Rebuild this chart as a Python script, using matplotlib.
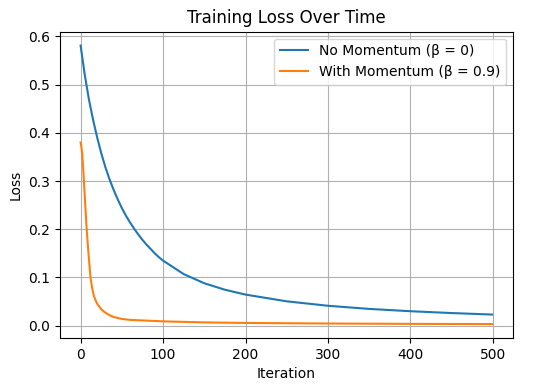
import matplotlib
matplotlib.use("Agg")
import matplotlib.pyplot as plt

iter_no_mom = [0, 5, 10, 15, 20, 25, 30, 35, 40, 45, 50, 55, 60, 65, 70, 75,
               80, 85, 90, 95, 100, 125, 150, 175, 200, 250, 300, 350, 400,
               450, 499]
loss_no_mom = [0.581, 0.521, 0.470, 0.428, 0.391, 0.358, 0.329, 0.304, 0.282,
               0.262, 0.244, 0.228, 0.214, 0.201, 0.189, 0.178, 0.168, 0.159,
               0.150, 0.142, 0.135, 0.107, 0.088, 0.0746, 0.0645, 0.0505,
               0.0413, 0.0348, 0.0300, 0.0262, 0.0231]

iter_mom = [0, 1, 2, 3, 4, 5, 6, 7, 8, 10, 12, 14, 16, 18, 20, 25, 30, 35, 40,
            50, 60, 80, 100, 150, 200, 300, 400, 499]
loss_mom = [0.380, 0.370, 0.355, 0.330, 0.300, 0.270, 0.240, 0.210, 0.185,
            0.140, 0.100, 0.078, 0.062, 0.053, 0.046, 0.034, 0.027, 0.022,
            0.018, 0.014, 0.012, 0.0105, 0.009, 0.0068, 0.0057, 0.0045,
            0.0038, 0.0033]

fig = plt.figure(figsize=(5.36, 3.91), dpi=100)
ax = fig.add_subplot(111)
fig.subplots_adjust(left=0.112, right=0.9565, top=0.919, bottom=0.1355)

ax.plot(iter_no_mom, loss_no_mom, label="No Momentum (β = 0)")
ax.plot(iter_mom, loss_mom, label="With Momentum (β = 0.9)")
ax.set_title("Training Loss Over Time")
ax.set_xlabel("Iteration")
ax.set_ylabel("Loss")
ax.grid(True)
ax.legend(loc="upper right")

fig.savefig("out.png", dpi=100)
